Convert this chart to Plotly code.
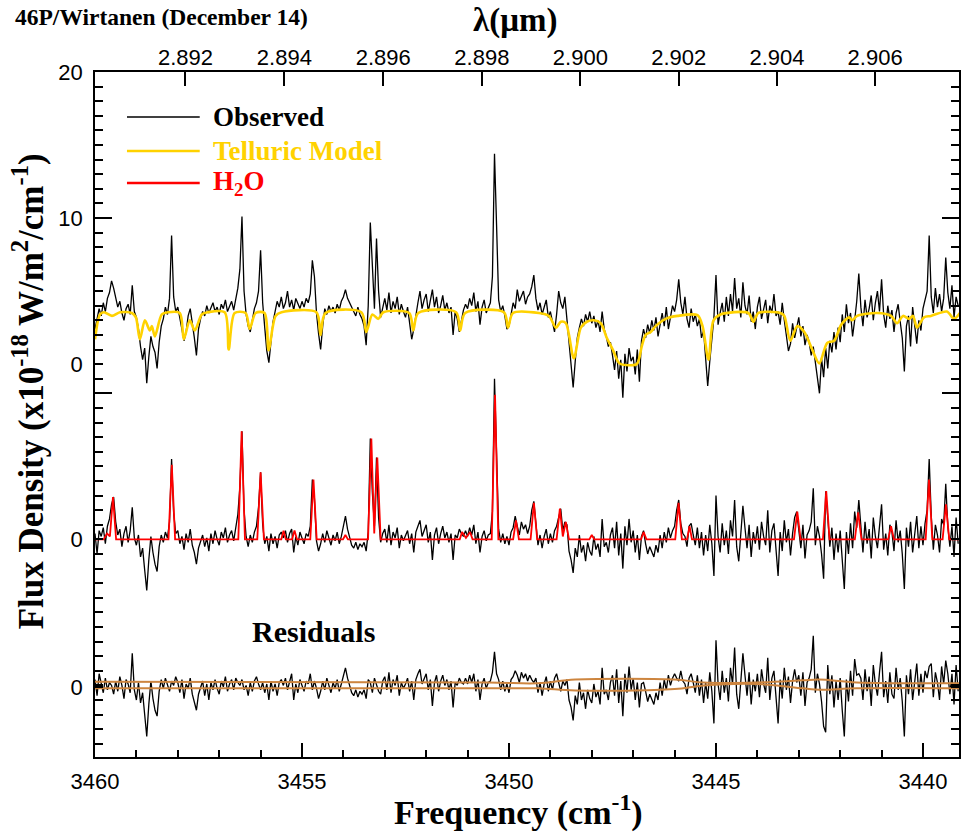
import plotly.graph_objects as go

# ---------------------------------------------------------------------------
# Spectral data
# ---------------------------------------------------------------------------
# Observed spectra are sampled on a uniform wavenumber grid (cm-1)
NU_START = 3460.00
NU_STEP = 0.05

# Observed flux (1e-18 W/m2/cm-1), 46P/Wirtanen, Dec 14
OBSERVED = [
    2.4, 3.1, 3.8, 3.3, 4.2, 3.6, 4.5, 4.9, 5.7, 5.2,
    4.6, 3.9, 4.3, 3.5, 3.0, 3.8, 4.1, 3.4, 5.4, 3.6,
    3.2, 2.4, 1.2, 0.3, 1.1, -1.3, 0.5, 1.9, 1.2, 0.8,
    -0.3, 1.5, 2.6, 3.1, 3.9, 3.4, 4.5, 8.8, 4.6, 3.6,
    3.9, 3.2, 2.4, 1.6, 2.2, 3.3, 3.8, 2.9, 1.8, 0.6,
    2.4, 3.1, 3.6, 3.3, 4.0, 3.5, 3.8, 4.2, 3.6, 3.9,
    3.4, 4.1, 3.8, 4.4, 3.6, 3.9, 4.3, 3.7, 4.6, 5.2,
    6.5, 10.1, 5.0, 3.4, 2.6, 2.2, 3.0, 3.8, 4.2, 5.0,
    7.8, 4.2, 2.5, 0.9, 0.1, 1.6, 2.9, 3.6, 4.3, 3.9,
    4.6, 3.8, 4.2, 5.0, 3.9, 4.4, 3.7, 4.5, 4.1, 3.8,
    4.3, 3.9, 4.5, 4.2, 4.8, 7.1, 6.0, 3.5, 2.1, 1.0,
    2.6, 3.8, 3.4, 4.0, 3.6, 3.9, 3.5, 4.1, 3.7, 4.3,
    4.6, 5.1, 4.5, 4.2, 3.8, 3.6, 3.3, 3.9, 3.4, 3.1,
    2.6, 1.3, 4.0, 9.7, 6.2, 3.8, 8.6, 5.0, 3.2, 3.9,
    4.5, 3.7, 4.9, 3.5, 4.3, 3.8, 4.6, 3.4, 4.1, 3.6,
    3.2, 3.9, 2.8, 1.7, 2.4, 3.5, 4.2, 5.0, 3.8, 4.4,
    4.8, 3.6, 4.3, 5.1, 3.9, 4.6, 3.5, 4.0, 4.7, 3.7,
    4.2, 3.5, 3.9, 2.0, 3.6, 3.1, 2.2, 2.9, 3.7, 4.1,
    3.8, 4.5, 4.0, 4.9, 3.6, 4.3, 2.7, 3.9, 4.4, 3.5,
    3.9, 4.2, 6.0, 14.4, 9.5, 4.4, 3.6, 4.0, 3.3, 2.4,
    2.6, 3.4, 4.2, 3.8, 5.1, 4.3, 4.7, 5.0, 4.1, 4.6,
    4.8, 5.3, 6.1, 4.5, 3.7, 4.2, 3.4, 3.9, 4.4, 3.2,
    3.6, 2.9, 2.2, 3.4, 5.0, 4.2, 3.8, 4.6, 3.1, 1.5,
    0.3, -1.6, 0.2, 1.8, 2.5, 3.1, 2.6, 3.4, 2.9, 3.6,
    2.8, 3.3, 2.5, 3.0, 2.2, 3.6, 2.4, 1.9, 1.2, 1.5,
    0.6, -0.4, 0.9, -1.0, 0.3, -2.3, 0.7, -0.5, 1.1, 0.2,
    0.5, -0.7, 1.0, -1.2, 1.6, 2.4, 1.8, 2.7, 2.1, 3.0,
    2.3, 3.2, 1.9, 2.8, 3.5, 2.6, 3.9, 2.4, 3.3, 4.0,
    3.6, 4.4, 5.8, 4.2, 3.4, 4.6, 3.1, 2.5, 3.8, 2.9,
    3.4, 2.6, 3.1, 1.8, 2.3, 0.4, -1.5, 0.2, 1.9, 3.2,
    6.1, 2.7, 3.5, 4.2, 2.9, 4.6, 3.3, 4.8, 3.6, 5.9,
    3.8, 4.5, 3.2, 5.6, 4.0, 3.4, 4.7, 2.9, 3.6, 2.4,
    3.9, 4.6, 3.1, 3.7, 4.4, 2.8, 4.0, 3.5, 4.8, 3.3,
    3.6, 2.7, 4.2, 3.0, 1.9, 0.9, 1.4, 2.8, 1.8, 2.5,
    3.2, 1.9, 2.6, 1.3, 2.0, 1.5, 0.6, 1.2, 0.1, -0.8,
    -2.0, 0.4, -0.9, 1.1, -0.3, 1.6, 0.8, 2.2, 1.0, 2.5,
    1.5, 3.4, 2.2, 4.1, 2.8, 3.5, 1.9, 3.0, 4.3, 6.2,
    3.9, 2.6, 4.4, 3.2, 3.8, 4.7, 3.0, 4.2, 5.0, 3.6,
    5.8, 3.4, 2.5, 4.0, 3.1, 3.7, 2.2, 3.5, 4.1, 2.9,
    1.8, -0.5, 2.6, 3.3, 1.2, 3.9, 2.7, 1.4, 3.0, 2.3,
    3.8, 4.4, 5.0, 8.8, 4.6, 3.5, 5.2, 3.9, 4.8, 3.6,
    4.5, 7.3, 4.9, 3.8, 5.4, 3.2, 4.6, 4.0,
]

# Telluric-corrected cometary spectrum (continuum removed)
CORRECTED = [
    0.4, -1.0, 0.6, 0.2, 0.8, -0.3, 0.9, 1.4, 2.4, 2.9,
    1.2, 0.3, 0.7, -0.5, 0.4, 0.9, -0.2, 0.6, 2.2, 0.1,
    -0.4, 0.3, -1.2, -0.6, -2.1, -3.5, -1.4, 0.2, -0.9, -1.7,
    -2.2, -0.5, 0.3, -0.2, 0.5, 0.1, 1.2, 5.5, 1.8, 0.4,
    0.6, -0.3, 0.2, -0.7, 0.4, -0.2, 0.7, -0.4, -0.9, -1.7,
    -0.6, -0.2, 0.3, -0.5, 0.1, -0.8, 0.4, -0.3, 0.6, 0.0,
    -0.4, 0.5, 0.1, 0.8, -0.2, 0.3, 0.6, -0.1, 0.9, 1.7,
    3.6, 7.4, 2.0, 0.2, -0.5, 0.3, -0.2, 0.5, 0.9, 2.2,
    4.6, 1.0, -0.3, 0.2, -0.8, 0.4, -0.3, 0.2, -0.6, 0.3,
    0.5, 0.1, 0.6, -0.2, 0.4, 0.7, -0.9, 0.2, -0.4, 0.5,
    0.1, -0.3, 0.4, 0.2, 0.9, 4.1, 2.8, -0.1, -0.8, -0.3,
    0.4, -0.2, 0.6, 0.1, -0.4, 0.3, -0.1, 0.5, -0.3, 0.2,
    0.8, 1.6, 0.7, 0.1, -0.4, -0.6, -0.2, -0.7, -0.3, -0.5,
    -0.2, -0.8, 0.5, 6.9, 3.2, 0.9, 5.6, 1.5, -0.2, 0.4,
    0.7, -0.2, 1.0, -0.4, 0.5, 0.1, 0.8, -0.6, 0.3, -0.1,
    0.2, 0.6, -0.3, 0.4, -0.9, 0.5, 0.9, 1.3, 0.2, 0.6,
    1.0, -0.2, 0.5, -1.4, 0.3, 0.8, -0.3, 0.4, 0.9, 0.1,
    0.5, -0.2, 0.4, -1.4, 0.3, 0.1, 0.7, 0.4, 0.2, 0.6,
    0.2, 0.8, 0.3, 1.0, -0.3, 0.5, -0.9, 0.2, 0.6, -0.1,
    0.3, 0.4, 1.9, 11.0, 6.3, 0.7, -0.2, 0.4, -0.3, 0.2,
    -0.4, 0.5, 0.8, 1.6, 0.9, 0.3, 1.2, 0.7, 1.0, 0.4,
    0.9, 2.0, 2.6, 0.8, -0.4, 0.3, -0.6, 0.2, 0.7, -0.3,
    0.4, -0.2, 0.6, 0.9, 1.6, 2.1, 0.6, 1.2, 1.0, -0.8,
    -1.4, -2.3, -0.6, -1.2, 0.3, -0.9, -0.4, -1.5, -0.2, -0.8,
    -1.1, 0.2, -0.7, -0.3, -1.2, 1.4, -0.5, -0.2, -0.9, 0.3,
    0.8, -0.6, 1.2, -1.1, 0.4, -2.0, 0.9, -0.4, 1.4, -0.2,
    0.6, -0.9, 0.3, -1.4, 0.2, 0.6, -0.3, -1.0, -0.5, -0.8,
    -1.2, -0.4, -0.9, 0.3, -0.6, 0.5, -0.2, 0.8, 0.1, 0.6,
    0.9, 2.0, 2.7, 1.1, 0.4, 0.2, -0.5, 0.9, 1.1, 0.3,
    -0.4, 0.8, -0.6, 0.5, -1.1, 0.3, -0.8, 1.0, -0.3, -2.5,
    3.0, 0.2, -0.9, 1.1, -0.4, 0.6, -1.0, 1.3, 0.2, 2.7,
    -0.5, -1.5, 0.4, 2.3, 0.8, -0.6, 1.0, -1.2, 0.5, -0.3,
    0.9, -0.7, 1.2, 0.2, -0.4, 2.0, -0.9, 0.6, 1.1, -0.5,
    -2.5, 0.5, -0.8, 1.3, -0.2, 0.7, -1.1, 0.4, 1.5, 1.9,
    0.8, -0.6, 1.0, -1.3, 0.3, 0.6, 1.2, 3.5, -0.4, 0.9,
    0.2, -1.0, -2.7, 3.3, 1.5, -0.5, 0.8, -1.4, 0.4, -0.9,
    0.6, -1.6, -3.4, 0.5, -1.0, 1.1, -0.6, 1.9, 0.8, 2.7,
    0.6, -0.9, 1.2, -0.3, 0.7, -1.3, 1.5, 0.2, -0.6, 1.0,
    2.4, -0.7, 0.4, -1.1, 1.0, 0.5, -0.8, 1.3, -0.2, 0.6,
    -1.0, -3.4, 0.8, -0.5, 1.2, -0.9, 0.3, 1.6, -0.6, 0.9,
    -0.4, 1.1, 2.0, 5.5, 1.6, -0.7, 1.0, 0.3, -0.9, 1.4,
    1.0, 3.8, 0.9, -0.5, 0.9, -1.2, 1.5, -0.3,
]

# Residuals after removing the H2O model
RESIDUALS = [
    0.5, -0.6, 0.9, 0.2, -0.4, 0.6, -0.2, 0.3, 0.1, -0.5,
    0.4, -0.3, 0.7, 0.1, -0.8, 0.5, 0.2, -0.4, 2.3, -0.2,
    -0.9, 0.3, -1.1, -0.4, -2.0, -3.4, -1.2, 0.4, -0.8, -1.6,
    -2.0, -0.3, 0.5, -0.1, 0.6, 0.2, -0.3, 0.4, 0.1, 0.7,
    0.3, -0.4, 0.5, -0.8, 0.2, -0.1, 0.6, -0.5, -1.0, -1.6,
    -0.5, -0.1, 0.4, -0.6, 0.2, -0.9, 0.3, -0.2, 0.5, -0.1,
    -0.5, 0.4, 0.0, 0.7, -0.3, 0.2, 0.5, -0.2, 0.6, 0.3,
    0.1, 0.5, -0.2, 0.1, -0.6, 0.3, -0.3, 0.4, 0.7, 0.2,
    -0.2, 0.3, -0.4, 0.2, -0.9, 0.4, -0.3, 0.2, -0.6, 0.3,
    0.5, 0.1, 0.6, -0.2, 0.4, 0.9, -0.9, 0.2, -0.4, 0.5,
    0.1, -0.3, 0.4, 0.2, 0.9, -0.2, 0.4, -0.1, -0.8, -0.3,
    0.4, -0.2, 0.6, 0.1, -0.4, 0.3, -0.1, 0.5, -0.3, 0.2,
    0.8, 1.3, 0.6, 0.1, -0.4, -0.6, -0.2, -0.7, -0.3, -0.5,
    -0.2, -0.8, 0.5, 0.3, -0.4, 0.6, 0.2, -0.3, -0.5, 0.4,
    0.7, -0.2, 1.0, -0.4, 0.5, 0.1, 0.8, -0.6, 0.3, -0.1,
    0.2, 0.6, -0.3, 0.4, -0.9, 0.5, 0.9, 1.2, 0.2, 0.6,
    0.9, -0.2, 0.5, -1.3, 0.3, 0.8, -0.3, 0.4, 0.8, 0.1,
    0.5, -0.2, 0.4, -1.4, 0.3, 0.1, 0.6, 0.3, 0.2, 0.6,
    0.2, 0.8, 0.3, 0.9, -0.3, 0.5, -0.9, 0.2, 0.6, -0.1,
    0.3, 0.4, 1.0, 2.4, 0.9, 0.5, -0.2, 0.4, -0.3, 0.2,
    -0.4, 0.5, 0.7, 1.1, 0.8, 0.3, 1.0, 0.6, 0.9, 0.4,
    0.8, 0.5, 0.3, 0.6, -0.4, 0.3, -0.6, 0.2, 0.7, -0.3,
    0.4, -0.2, 0.6, 0.9, 0.2, -0.3, 0.4, 0.1, 0.5, -0.9,
    -1.4, -2.3, -0.6, -1.2, 0.3, -0.9, -0.4, -1.5, -0.2, -0.8,
    -1.1, 0.2, -0.7, -0.3, -1.2, 1.3, -0.5, -0.2, -0.9, 0.3,
    0.8, -0.6, 1.2, -1.1, 0.4, -2.0, 0.9, -0.4, 1.4, -0.2,
    0.6, -0.9, 0.3, -1.4, 0.2, 0.3, -0.3, -1.0, -0.5, -0.8,
    -1.2, -0.4, -0.9, 0.3, -0.6, 0.5, -0.2, 0.8, 0.1, 0.6,
    0.9, 0.6, 0.4, 1.1, 0.4, 0.2, -0.5, 0.6, 0.9, 0.3,
    -0.4, 0.8, -0.6, 0.5, -1.1, 0.3, -0.8, 1.0, -0.3, -2.5,
    3.2, 0.2, -0.9, 1.1, -0.4, 0.6, -1.0, 1.3, 0.2, 2.7,
    -0.5, -1.5, 0.4, 2.3, 0.8, -0.6, 1.0, -1.2, 0.5, -0.3,
    0.9, -0.7, 1.2, 0.2, -0.4, 2.0, -0.9, 0.6, 1.1, -0.5,
    -2.5, 0.5, -0.8, 1.3, -0.2, 0.7, -1.1, 0.4, 1.2, 0.3,
    0.8, -0.6, 1.0, -1.3, 0.3, 0.6, 1.2, 3.5, -0.4, 0.9,
    0.2, -1.0, -2.7, -3.1, 1.5, -0.5, 0.8, -1.4, 0.4, -0.9,
    0.6, -1.6, -3.4, 0.5, -1.0, 1.1, -0.6, 1.9, 0.8, 0.9,
    0.6, -0.9, 1.2, -0.3, 0.7, -1.3, 1.5, 0.2, -0.6, 1.0,
    2.4, -0.7, 0.4, -1.1, 1.0, -0.5, -0.8, 1.3, -0.2, 0.6,
    -1.0, -3.4, 0.8, -0.5, 1.2, -0.9, 0.3, 1.6, -0.6, 0.9,
    -0.4, 1.1, 0.6, 1.4, 1.6, -0.7, 1.0, 0.3, -0.9, 1.4,
    0.2, 1.8, 0.9, -0.5, 0.9, -1.2, 1.5, -0.3,
]

# Telluric transmittance model scaled to the continuum
TELLURIC_NU = [
    3460.000, 3459.880, 3459.783, 3459.590, 3459.398, 3459.108, 3459.012, 3458.916,
    3458.795, 3458.675, 3458.627, 3458.554, 3458.386, 3458.241, 3457.952, 3457.855,
    3457.711, 3457.590, 3457.422, 3457.277, 3456.867, 3456.771, 3456.627, 3456.361,
    3456.265, 3456.120, 3455.904, 3455.807, 3455.639, 3455.494, 3454.651, 3454.554,
    3454.434, 3453.566, 3453.446, 3453.301, 3453.157, 3453.036, 3452.410, 3452.313,
    3452.193, 3451.277, 3451.181, 3451.060, 3450.120, 3450.024, 3449.904, 3449.277,
    3449.036, 3448.867, 3448.747, 3448.627, 3448.434, 3448.265, 3448.120, 3447.952,
    3447.783, 3447.639, 3447.494, 3447.373, 3447.301, 3446.916, 3446.795, 3446.699,
    3446.578, 3446.458, 3446.217, 3445.928, 3445.446, 3445.325, 3445.181, 3445.060,
    3444.892, 3444.217, 3444.096, 3443.976, 3443.446, 3443.349, 3443.205, 3443.036,
    3442.867, 3442.675, 3442.506, 3442.313, 3442.145, 3441.976, 3441.783, 3441.711,
    3441.590, 3441.108, 3440.771, 3440.627, 3440.482, 3440.337, 3440.241, 3440.145,
    3439.976, 3439.807, 3439.422, 3439.253, 3439.108,
]
TELLURIC_FLUX = [
    1.70, 3.40, 3.55, 3.30, 3.55, 3.50, 3.20, 1.70,
    3.00, 2.30, 2.60, 1.90, 3.40, 3.55, 3.50, 1.70,
    3.00, 2.30, 3.40, 3.55, 3.55, 1.00, 3.50, 3.50,
    2.40, 3.50, 3.50, 0.95, 3.30, 3.55, 3.55, 2.00,
    3.50, 3.55, 2.20, 3.40, 3.10, 3.55, 3.50, 2.30,
    3.50, 3.55, 2.30, 3.50, 3.55, 2.50, 3.50, 3.50,
    3.30, 2.50, 2.90, 2.80, 0.40, 2.50, 2.90, 3.00,
    2.80, 1.80, 1.00, 0.20, 0.00, 0.00, 1.20, 2.00,
    2.20, 2.60, 3.10, 3.30, 3.35, 2.60, 0.30, 3.00,
    3.40, 3.50, 2.90, 3.50, 3.50, 3.30, 1.60, 2.60,
    2.20, 1.00, 0.05, 1.45, 1.60, 2.70, 3.20, 3.00,
    3.30, 3.50, 3.30, 2.80, 3.30, 3.10, 3.30, 2.50,
    3.20, 3.30, 3.60, 3.10, 3.50,
]

# H2O fluorescence model (line profile vertices)
H2O_NU = [
    3460.000, 3459.790, 3459.710, 3459.640, 3459.566, 3459.490,
    3458.225, 3458.145, 3458.065,
    3456.538, 3456.458, 3456.378,
    3456.080, 3456.000, 3455.920,
    3455.500, 3455.446, 3455.390,
    3455.240, 3455.181, 3455.120,
    3454.800, 3454.723, 3454.645,
    3454.010, 3453.952, 3453.890,
    3453.405, 3453.325, 3453.255, 3453.181, 3453.100,
    3451.190, 3451.133, 3451.040, 3450.940, 3450.880,
    3450.417, 3450.337, 3450.257,
    3449.900, 3449.831, 3449.760,
    3449.478, 3449.398, 3449.318,
    3448.850, 3448.771, 3448.700, 3448.627, 3448.550,
    3448.060, 3448.000, 3447.940,
    3446.810, 3446.747, 3446.680,
    3445.984, 3445.904, 3445.824,
    3445.700, 3445.639, 3445.580,
    3443.116, 3443.036, 3442.956,
    3442.417, 3442.337, 3442.257,
    3441.646, 3441.566, 3441.486,
    3440.840, 3440.771, 3440.700,
    3439.935, 3439.855, 3439.775,
    3439.526, 3439.446, 3439.366,
    3439.100,
]
H2O_FLUX = [
    0.0, 0.0, 0.4, 0.2, 2.9, 0.0,
    0.0, 5.1, 0.0,
    0.0, 7.4, 0.0,
    0.0, 4.6, 0.0,
    0.0, 0.6, 0.0,
    0.0, 0.6, 0.0,
    0.0, 4.1, 0.0,
    0.0, 0.3, 0.0,
    0.0, 6.9, 0.4, 5.6, 0.0,
    0.0, 0.5, 0.1, 0.5, 0.0,
    0.0, 9.9, 0.0,
    0.0, 1.3, 0.0,
    0.0, 2.5, 0.0,
    0.0, 2.1, 0.2, 1.2, 0.0,
    0.0, 0.3, 0.0,
    0.0, 0.5, 0.0,
    0.0, 2.5, 0.0,
    0.0, 0.9, 0.0,
    0.0, 1.9, 0.0,
    0.0, 3.3, 0.0,
    0.0, 1.85, 0.0,
    0.0, 0.9, 0.0,
    0.0, 4.1, 0.0,
    0.0, 2.4, 0.0,
    0.0,
]

# Uncertainty envelope drawn over the residuals
ENVELOPE_NU = [3460.0, 3450.5, 3449.3, 3448.4, 3446.0, 3445.3, 3444.0, 3442.9, 3442.5, 3441.6, 3439.1]
ENVELOPE_UPPER = [0.35, 0.30, 0.25, 0.50, 0.50, 0.30, 0.30, 0.45, 0.50, 0.30, 0.25]
ENVELOPE_LOWER = [-0.10, -0.10, -0.10, -0.25, -0.15, 0.10, 0.20, -0.10, -0.20, -0.10, -0.10]

# Vertical offsets of the three stacked spectra
OFFSET_OBS = 0.0
OFFSET_CORR = -12.0
OFFSET_RES = -22.1

# Axis ticks
FREQ_TICKS = [3460, 3455, 3450, 3445, 3440]
WAVELENGTH_TICKS = [2.892, 2.894, 2.896, 2.898, 2.900, 2.902, 2.904, 2.906]
Y_TICKS = [20, 10, OFFSET_OBS, OFFSET_CORR, OFFSET_RES]
Y_TICK_TEXT = ["20", "10", "0", "0", "0"]
Y_LONG_TICKS = [20, 10, -2]

BLACK = "#000000"
GOLD = "#FFD200"
RED = "#FF0000"
BROWN = "#CD853F"
SERIF = "Liberation Serif, Times New Roman, serif"
SANS = "Liberation Sans, Arial, sans-serif"


def grid(values):
    return [NU_START - NU_STEP * i for i in range(len(values))]


def shifted(values, offset):
    return [v + offset for v in values]


fig = go.Figure()

# stacked spectra
fig.add_trace(go.Scatter(x=grid(OBSERVED), y=shifted(OBSERVED, OFFSET_OBS), mode="lines",
                         line=dict(color=BLACK, width=1.3)))
fig.add_trace(go.Scatter(x=TELLURIC_NU, y=shifted(TELLURIC_FLUX, OFFSET_OBS), mode="lines",
                         line=dict(color=GOLD, width=2.6, shape="spline", smoothing=0.8)))
fig.add_trace(go.Scatter(x=grid(CORRECTED), y=shifted(CORRECTED, OFFSET_CORR), mode="lines",
                         line=dict(color=BLACK, width=1.3)))
fig.add_trace(go.Scatter(x=H2O_NU, y=shifted(H2O_FLUX, OFFSET_CORR), mode="lines",
                         line=dict(color=RED, width=1.8)))
fig.add_trace(go.Scatter(x=grid(RESIDUALS), y=shifted(RESIDUALS, OFFSET_RES), mode="lines",
                         line=dict(color=BLACK, width=1.3)))
for band in (ENVELOPE_UPPER, ENVELOPE_LOWER):
    fig.add_trace(go.Scatter(x=ENVELOPE_NU, y=shifted(band, OFFSET_RES), mode="lines",
                             line=dict(color=BROWN, width=2, shape="spline")))

# invisible trace that carries the top wavelength axis
fig.add_trace(go.Scatter(x=[NU_START], y=[0], xaxis="x2", mode="markers",
                         marker=dict(opacity=0), hoverinfo="skip"))
# invisible trace that carries the long y ticks
fig.add_trace(go.Scatter(x=[NU_START], y=[0], yaxis="y2", mode="markers",
                         marker=dict(opacity=0), hoverinfo="skip"))

x_range = [3460.0, 3439.13]
y_range = [-26.9, 20.0]
tick_font = dict(family=SANS, size=22, color=BLACK)

fig.update_layout(
    width=962, height=833,
    margin=dict(l=95, r=1, t=72, b=76),
    paper_bgcolor="white", plot_bgcolor="white",
    showlegend=False,
    xaxis=dict(
        range=x_range, tickmode="array", tickvals=FREQ_TICKS,
        ticks="inside", ticklen=14, tickwidth=1.5, tickcolor=BLACK,
        minor=dict(dtick=1, tick0=3460, ticks="inside", ticklen=7, tickwidth=1.5, tickcolor=BLACK),
        showline=True, linecolor=BLACK, linewidth=1.5, mirror=True,
        showgrid=False, zeroline=False, tickfont=tick_font, ticklabelstandoff=4,
    ),
    xaxis2=dict(
        range=x_range, overlaying="x", side="top", anchor="y",
        tickmode="array", tickvals=[10000.0 / w for w in WAVELENGTH_TICKS],
        ticktext=["%.3f" % w for w in WAVELENGTH_TICKS],
        ticks="inside", ticklen=14, tickwidth=1.5, tickcolor=BLACK,
        showline=False, showgrid=False, zeroline=False, tickfont=tick_font,
        ticklabelstandoff=2,
    ),
    yaxis=dict(
        range=y_range, tickmode="array", tickvals=Y_TICKS, ticktext=Y_TICK_TEXT,
        ticks="inside", ticklen=8, tickwidth=1.5, tickcolor=BLACK,
        minor=dict(dtick=1, tick0=0, ticks="inside", ticklen=8, tickwidth=1.5, tickcolor=BLACK),
        showline=True, linecolor=BLACK, linewidth=1.5, mirror="allticks",
        showgrid=False, zeroline=False, tickfont=tick_font, ticklabelstandoff=6,
    ),
    yaxis2=dict(
        range=y_range, overlaying="y", side="left", anchor="x",
        tickmode="array", tickvals=Y_LONG_TICKS, showticklabels=False,
        ticks="inside", ticklen=17, tickwidth=1.5, tickcolor=BLACK,
        mirror="allticks", showline=False, showgrid=False, zeroline=False,
    ),
)

# legend keys and labels
legend_items = [
    ("Observed", BLACK, 0.9343, 1.6),
    ("Telluric Model", GOLD, 0.8846, 2.6),
    ("H<sub>2</sub>O", RED, 0.8380, 2.6),
]
for label, color, ypos, width in legend_items:
    fig.add_shape(type="line", xref="paper", yref="paper", x0=0.037, x1=0.1212,
                  y0=ypos, y1=ypos, line=dict(color=color, width=width))
    fig.add_annotation(xref="paper", yref="paper", x=0.1339, y=ypos, xanchor="left",
                       yanchor="middle", showarrow=False, text="<b>%s</b>" % label,
                       font=dict(family=SERIF, size=27, color=color))

fig.add_annotation(xref="paper", yref="paper", x=0.179, y=0.1825, xanchor="left",
                   yanchor="middle", showarrow=False, text="<b>Residuals</b>",
                   font=dict(family=SERIF, size=30, color=BLACK))

# titles
fig.add_annotation(xref="paper", yref="paper", x=-0.0947, y=1.0803, xanchor="left",
                   yanchor="middle", showarrow=False, text="<b>46P/Wirtanen (December 14)</b>",
                   font=dict(family=SERIF, size=23.5, color=BLACK))
fig.add_annotation(xref="paper", yref="paper", x=0.486, y=1.0759, xanchor="center",
                   yanchor="middle", showarrow=False, text="<b>λ(μm)</b>",
                   font=dict(family=SERIF, size=33, color=BLACK))
fig.add_annotation(xref="paper", yref="paper", x=0.4896, y=-0.0775, xanchor="center",
                   yanchor="middle", showarrow=False, text="<b>Frequency (cm<sup>-1</sup>)</b>",
                   font=dict(family=SERIF, size=34, color=BLACK))
fig.add_annotation(xref="paper", yref="paper", x=-0.0774, y=0.534, xanchor="center",
                   yanchor="middle", showarrow=False, textangle=-90,
                   text="<b>Flux Density (x10<sup>-18</sup> W/m<sup>2</sup>/cm<sup>-1</sup>)</b>",
                   font=dict(family=SERIF, size=35, color=BLACK))

fig.write_html("out.html")
